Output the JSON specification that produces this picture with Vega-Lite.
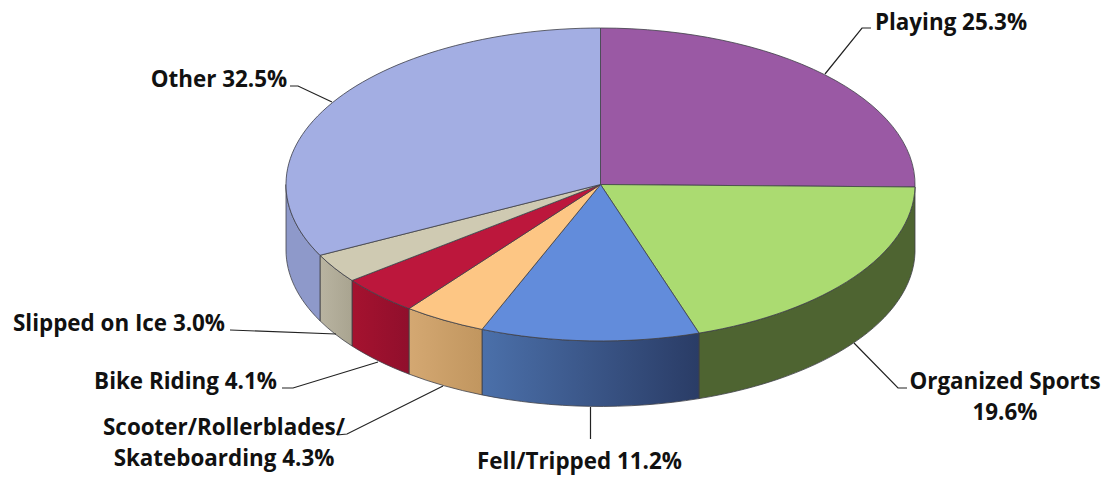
{"$schema":"https://vega.github.io/schema/vega-lite/v6.json","width":1102,"height":477,"autosize":{"type":"none"},"padding":0,"background":"white","config":{"view":{"stroke":null}},
"datasets":{"slices":[{"category":"Playing","share":25.3},{"category":"Organized Sports","share":19.6},{"category":"Fell/Tripped","share":11.2},{"category":"Scooter/Rollerblades/Skateboarding","share":4.3},{"category":"Bike Riding","share":4.1},{"category":"Slipped on Ice","share":3.0},{"category":"Other","share":32.5}],
"labels":[{"category":"Playing","text":"Playing 25.3%","lx":951,"ly":22.5},{"category":"Organized Sports","text":"Organized Sports\n19.6%","lx":1005,"ly":382},{"category":"Fell/Tripped","text":"Fell/Tripped 11.2%","lx":579.5,"ly":462},{"category":"Scooter/Rollerblades/Skateboarding","text":"Scooter/Rollerblades/\nSkateboarding 4.3%","lx":224,"ly":428},{"category":"Bike Riding","text":"Bike Riding 4.1%","lx":185.5,"ly":382},{"category":"Slipped on Ice","text":"Slipped on Ice 3.0%","lx":119,"ly":324},{"category":"Other","text":"Other 32.5%","lx":219,"ly":80}],
"leaders":[{"category":"Playing","seq":1,"lx":825,"ly":74},{"category":"Playing","seq":2,"lx":862,"ly":28},{"category":"Playing","seq":3,"lx":871,"ly":28},{"category":"Other","seq":1,"lx":290,"ly":86},{"category":"Other","seq":2,"lx":298,"ly":86},{"category":"Other","seq":3,"lx":332,"ly":102},{"category":"Slipped on Ice","seq":1,"lx":230,"ly":330},{"category":"Slipped on Ice","seq":2,"lx":336,"ly":334},{"category":"Bike Riding","seq":1,"lx":282,"ly":388},{"category":"Bike Riding","seq":2,"lx":293,"ly":388},{"category":"Bike Riding","seq":3,"lx":378,"ly":362},{"category":"Scooter","seq":1,"lx":337,"ly":435},{"category":"Scooter","seq":2,"lx":347,"ly":434},{"category":"Scooter","seq":3,"lx":443,"ly":386},{"category":"Fell/Tripped","seq":1,"lx":590.5,"ly":407},{"category":"Fell/Tripped","seq":2,"lx":590.5,"ly":439},{"category":"Organized Sports","seq":1,"lx":854,"ly":343},{"category":"Organized Sports","seq":2,"lx":898,"ly":388},{"category":"Organized Sports","seq":3,"lx":907,"ly":388}]},
"layer":[
{"data":{"name":"slices"},"transform":[{"filter":"datum.category === 'Organized Sports'"}],
"mark":{"type":"point","filled":true,"opacity":1,"size":4,"stroke":"#3f4048","strokeWidth":0.8,"fill":"#4e6431","shape":"M364 -51.5A314.5 156.5 0 0 1 148 94.6L148 160.1A314.5 156.5 0 0 0 364 14Z"}},
{"data":{"name":"slices"},"transform":[{"filter":"datum.category === 'Fell/Tripped'"}],
"mark":{"type":"point","filled":true,"opacity":1,"size":4,"stroke":"#3f4048","strokeWidth":0.8,"fill":{"gradient":"linear","x1":0,"x2":1,"y1":0,"y2":0,"stops":[{"offset":0,"color":"#4b70aa"},{"offset":1,"color":"#2a3c66"}]},"shape":"M148 94.6A314.5 156.5 0 0 1 -69 90.9L-69 156.4A314.5 156.5 0 0 0 148 160.1Z"}},
{"data":{"name":"slices"},"transform":[{"filter":"datum.category === 'Scooter/Rollerblades/Skateboarding'"}],
"mark":{"type":"point","filled":true,"opacity":1,"size":4,"stroke":"#3f4048","strokeWidth":0.8,"fill":{"gradient":"linear","x1":0,"x2":1,"y1":0,"y2":0,"stops":[{"offset":0,"color":"#d4a872"},{"offset":1,"color":"#c1965f"}]},"shape":"M-69 90.9A314.5 156.5 0 0 1 -142 70.1L-142 135.6A314.5 156.5 0 0 0 -69 156.4Z"}},
{"data":{"name":"slices"},"transform":[{"filter":"datum.category === 'Bike Riding'"}],
"mark":{"type":"point","filled":true,"opacity":1,"size":4,"stroke":"#3f4048","strokeWidth":0.8,"fill":{"gradient":"linear","x1":0,"x2":1,"y1":0,"y2":0,"stops":[{"offset":0,"color":"#a5122f"},{"offset":1,"color":"#900f2c"}]},"shape":"M-142 70.1A314.5 156.5 0 0 1 -199 42L-199 107.5A314.5 156.5 0 0 0 -142 135.6Z"}},
{"data":{"name":"slices"},"transform":[{"filter":"datum.category === 'Slipped on Ice'"}],
"mark":{"type":"point","filled":true,"opacity":1,"size":4,"stroke":"#3f4048","strokeWidth":0.8,"fill":{"gradient":"linear","x1":0,"x2":1,"y1":0,"y2":0,"stops":[{"offset":0,"color":"#b9b4a1"},{"offset":1,"color":"#a9a490"}]},"shape":"M-199 42A314.5 156.5 0 0 1 -231 16.8L-231 82.3A314.5 156.5 0 0 0 -199 107.5Z"}},
{"data":{"name":"slices"},"transform":[{"filter":"datum.category === 'Other'"}],
"mark":{"type":"point","filled":true,"opacity":1,"size":4,"stroke":"#3f4048","strokeWidth":0.8,"fill":"#8e99ca","shape":"M-231 16.8A314.5 156.5 0 0 1 -265 -54L-265 11.5A314.5 156.5 0 0 0 -231 82.3Z"}},
{"data":{"name":"slices"},
"mark":{"type":"point","filled":true,"opacity":1,"size":4,"stroke":"#3f4048","strokeWidth":0.8},
"encoding":{"shape":{"field":"category","type":"nominal","legend":null,"scale":{"domain":["Playing","Organized Sports","Fell/Tripped","Scooter/Rollerblades/Skateboarding","Bike Riding","Slipped on Ice","Other"],"range":["M49.5 -54L49.5 -210.5A314.5 156.5 0 0 1 364 -51.5Z","M49.5 -54L364 -51.5A314.5 156.5 0 0 1 148 94.6Z","M49.5 -54L148 94.6A314.5 156.5 0 0 1 -69 90.9Z","M49.5 -54L-69 90.9A314.5 156.5 0 0 1 -142 70.1Z","M49.5 -54L-142 70.1A314.5 156.5 0 0 1 -199 42Z","M49.5 -54L-199 42A314.5 156.5 0 0 1 -231 16.8Z","M49.5 -54L-231 16.8A314.5 156.5 0 0 1 49.5 -210.5Z"]}},
"fill":{"field":"category","type":"nominal","legend":null,"scale":{"domain":["Playing","Organized Sports","Fell/Tripped","Scooter/Rollerblades/Skateboarding","Bike Riding","Slipped on Ice","Other"],"range":["#9a59a4","#abdb71","#628cdb","#fdc684","#bc173c","#cfcab2","#a3aee3"]}}}},
{"data":{"name":"leaders"},"mark":{"type":"line","color":"#222222","strokeWidth":1.2},
"encoding":{"x":{"field":"lx","type":"quantitative","axis":null,"scale":{"domain":[0,1102],"nice":false,"zero":false}},"y":{"field":"ly","type":"quantitative","axis":null,"scale":{"domain":[0,477],"reverse":true,"nice":false,"zero":false}},"detail":{"field":"category"},"order":{"field":"seq"}}},
{"data":{"name":"labels"},"mark":{"type":"text","font":"Open Sans","fontWeight":"bold","fontSize":22.4,"color":"#111111","align":"center","baseline":"middle","lineBreak":"\n","lineHeight":31},
"encoding":{"x":{"field":"lx","type":"quantitative","axis":null,"scale":{"domain":[0,1102],"nice":false,"zero":false}},"y":{"field":"ly","type":"quantitative","axis":null,"scale":{"domain":[0,477],"reverse":true,"nice":false,"zero":false}},"text":{"field":"text"}}}
]}
